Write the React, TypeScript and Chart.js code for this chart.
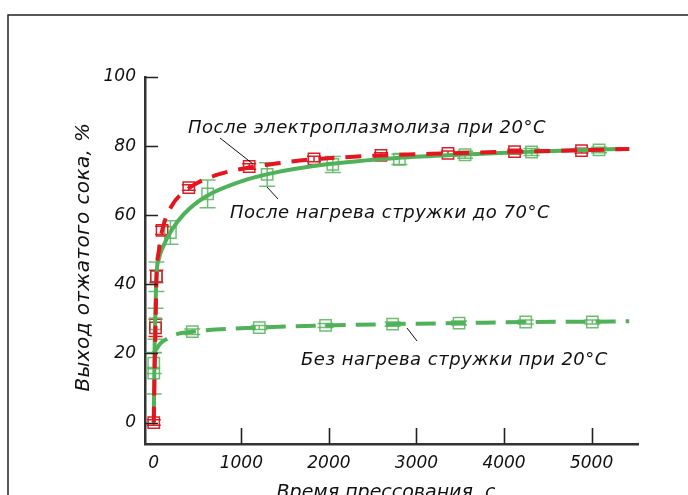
import React, { useEffect, useRef } from "react";
import { Chart, registerables } from "chart.js";

Chart.register(...registerables);

// ---------- data ----------
const xTickValues = [0, 1000, 2000, 3000, 4000, 5000];
const xInnerTicks = [1000, 2000, 3000, 4000, 5000];
const yTickValues = [0, 20, 40, 60, 80, 100];

const xTitle = "Время прессования, с";
const yTitle = "Выход отжатого сока, %";
const labelEp = "После электроплазмолиза при 20°C";
const labelHeat = "После нагрева стружки до 70°C";
const labelCold = "Без нагрева стружки при 20°C";

// After electroplasmolysis at 20°C (red)
const epTime = [0, 20, 30, 95, 400, 1090, 1830, 2595, 3360, 4120, 4885];
const epYield = [0, 27.4, 42.3, 55.6, 68.0, 74.1, 76.3, 77.3, 77.9, 78.4, 78.7];
const epErr = [0.8, 2.5, 1.8, 1.2, 0.8, 0.8, 0.8, 0.8, 0.7, 0.7, 0.7];
const epCurveTime = [0, 10, 20, 30, 60, 100, 200, 400, 700, 1090, 1500, 1830, 2595, 3360, 4120, 4885, 5430];
const epCurveYield = [0, 15, 27.5, 41, 50, 56, 62.5, 67.8, 71.5, 73.8, 75.3, 76.2, 77.3, 77.9, 78.4, 78.8, 79.2];

// After heating the chips to 70°C (green, solid)
const heatTime = [0, 20, 30, 190, 615, 1295, 2045, 2805, 3555, 4315, 5085];
const heatYield = [14.3, 28.6, 42.2, 55.0, 66.2, 71.8, 74.7, 76.2, 77.5, 78.3, 78.9];
const heatErr = [6, 4.5, 4.3, 3.4, 4.0, 3.4, 2.3, 1.5, 1.0, 1.0, 0.8];
const heatCurveTime = [0, 10, 20, 30, 60, 100, 200, 350, 600, 1000, 1300, 2000, 2800, 3550, 4300, 5085, 5430];
const heatCurveYield = [0, 22, 33, 42, 47.5, 50.5, 55.5, 60.5, 65.5, 69.8, 71.9, 74.8, 76.6, 77.6, 78.4, 79.0, 79.2];

// Without heating, chips at 20°C (green, dashed)
const coldTime = [0, 440, 1205, 1962, 2728, 3486, 4248, 5009];
const coldYield = [17.2, 26.3, 27.5, 28.1, 28.5, 28.8, 29.1, 29.1];
const coldErr = [3, 0.8, 0.6, 0.6, 0.6, 0.6, 0.6, 0.6];
const coldCurveTime = [0, 80, 164, 250, 440, 1205, 1962, 2728, 3486, 4248, 5009, 5430];
const coldCurveYield = [20.1, 23, 24.4, 25.5, 26.3, 27.5, 28.1, 28.5, 28.8, 29.1, 29.2, 29.3];

// ---------- styles ----------
const RED = "rgb(230,20,30)";
const RED_PT = "rgba(215,20,30,0.95)";
const GREEN = "rgb(80,178,88)";
const GREEN_PT = "rgba(85,180,90,0.85)";
const FONT = "'DejaVu Sans', sans-serif";

const toXY = (xs: number[], ys: number[]) => xs.map((x, i) => ({ x, y: ys[i] }));

export default function App() {
  const ref = useRef<HTMLCanvasElement | null>(null);

  useEffect(() => {
    const canvas = ref.current;
    if (!canvas) return;

    const errorSets: Record<number, { err: number[]; color: string; cap: number }> = {
      3: { err: epErr, color: RED_PT, cap: 14 },
      4: { err: heatErr, color: GREEN_PT, cap: 16 },
      5: { err: coldErr, color: GREEN_PT, cap: 16 },
    };

    const framePlugin = {
      id: "frame",
      beforeDraw(chart: any) {
        const ctx = chart.ctx;
        ctx.save();
        ctx.fillStyle = "#fff";
        ctx.fillRect(0, 0, chart.width, chart.height);
        ctx.strokeStyle = "#222";
        ctx.lineWidth = 1.5;
        ctx.beginPath();
        ctx.moveTo(8, chart.height);
        ctx.lineTo(8, 15);
        ctx.lineTo(chart.width, 15);
        ctx.stroke();
        ctx.restore();
      },
    };

    const errorPlugin = {
      id: "errorBars",
      beforeDatasetsDraw(chart: any) {
        const ctx = chart.ctx;
        const ys = chart.scales.y;
        ctx.save();
        Object.keys(errorSets).forEach((k) => {
          const idx = Number(k);
          const set = errorSets[idx];
          const meta = chart.getDatasetMeta(idx);
          const ds = chart.data.datasets[idx].data as any[];
          ctx.strokeStyle = set.color;
          ctx.lineWidth = 1.5;
          meta.data.forEach((pt: any, j: number) => {
            const v = ds[j].y;
            const e = set.err[j];
            const top = ys.getPixelForValue(v + e);
            const bot = ys.getPixelForValue(v - e);
            const h = set.cap / 2;
            ctx.beginPath();
            ctx.moveTo(pt.x, top);
            ctx.lineTo(pt.x, bot);
            ctx.moveTo(pt.x - h, top);
            ctx.lineTo(pt.x + h, top);
            ctx.moveTo(pt.x - h, bot);
            ctx.lineTo(pt.x + h, bot);
            ctx.stroke();
          });
        });
        ctx.restore();
      },
    };

    const decorPlugin = {
      id: "decor",
      afterDraw(chart: any) {
        const ctx = chart.ctx;
        const xs = chart.scales.x;
        const ys = chart.scales.y;
        const area = chart.chartArea;
        ctx.save();
        // inward ticks
        ctx.strokeStyle = "#222";
        ctx.lineWidth = 1.6;
        ctx.beginPath();
        yTickValues.forEach((v) => {
          const py = Math.round(ys.getPixelForValue(v)) + 0.5;
          ctx.moveTo(area.left, py);
          ctx.lineTo(area.left + 13, py);
        });
        xInnerTicks.forEach((v) => {
          const px = Math.round(xs.getPixelForValue(v)) + 0.5;
          ctx.moveTo(px, area.bottom);
          ctx.lineTo(px, area.bottom - 16);
        });
        ctx.stroke();

        // axis titles
        ctx.fillStyle = "#111";
        ctx.font = `italic 20px ${FONT}`;
        ctx.textAlign = "center";
        ctx.textBaseline = "middle";
        (ctx as any).letterSpacing = "0.4px";
        ctx.save();
        ctx.translate(84, 257);
        ctx.rotate(-Math.PI / 2);
        ctx.fillText(yTitle, 0, 0);
        ctx.restore();
        (ctx as any).letterSpacing = "0px";
        ctx.font = `italic 19px ${FONT}`;
        ctx.textBaseline = "alphabetic";
        ctx.fillText(xTitle, 386, 498);

        // annotations
        ctx.font = `italic 18px ${FONT}`;
        ctx.textAlign = "left";
        (ctx as any).letterSpacing = "0.5px";
        ctx.fillText(labelEp, 188, 133);
        ctx.fillText(labelHeat, 230, 218);
        ctx.fillText(labelCold, 301, 365);
        (ctx as any).letterSpacing = "0px";

        ctx.strokeStyle = "#111";
        ctx.lineWidth = 1;
        ctx.beginPath();
        ctx.moveTo(220, 138);
        ctx.lineTo(253, 164);
        ctx.moveTo(267, 187);
        ctx.lineTo(278, 199);
        ctx.moveTo(407, 328);
        ctx.lineTo(417, 341);
        ctx.stroke();
        ctx.restore();
      },
    };

    const curve = (data: any, color: string, dash: number[], width: number) => ({
      data,
      borderColor: color,
      borderWidth: width,
      borderDash: dash,
      pointRadius: 0,
      fill: false,
      cubicInterpolationMode: "monotone" as const,
      showLine: true,
    });
    const marks = (data: any, color: string) => ({
      data,
      showLine: false,
      pointStyle: "rect" as const,
      pointRadius: 8,
      pointBorderWidth: 1.5,
      pointBorderColor: color,
      pointBackgroundColor: "rgba(0,0,0,0)",
      borderColor: color,
      backgroundColor: "rgba(0,0,0,0)",
    });

    const tickFont = { family: FONT, size: 17, style: "italic" as const };

    const chart = new Chart(canvas, {
      type: "line",
      data: {
        datasets: [
          curve(toXY(epCurveTime, epCurveYield), RED, [16, 11], 4),
          curve(toXY(heatCurveTime, heatCurveYield), GREEN, [], 4),
          curve(toXY(coldCurveTime, coldCurveYield), GREEN, [20, 10], 4),
          marks(toXY(epTime, epYield), RED_PT),
          marks(toXY(heatTime, heatYield), GREEN_PT),
          marks(toXY(coldTime, coldYield), GREEN_PT),
        ],
      },
      options: {
        responsive: false,
        devicePixelRatio: 1,
        animation: false,
        events: [],
        layout: { padding: { left: 85, right: 50, top: 77, bottom: 11 } },
        plugins: { legend: { display: false }, tooltip: { enabled: false } },
        scales: {
          x: {
            type: "linear",
            min: -100,
            max: 5530,
            afterBuildTicks: (s: any) => {
              s.ticks = xTickValues.map((v) => ({ value: v }));
            },
            afterFit: (s: any) => {
              s.height = 40;
            },
            grid: { display: true, drawOnChartArea: false, drawTicks: false },
            border: { display: true, color: "#333", width: 2.5 },
            ticks: {
              font: tickFont,
              color: "#111",
              padding: 9,
              maxRotation: 0,
              autoSkip: false,
              callback: (v: any) => String(v),
            },
          },
          y: {
            type: "linear",
            min: -6.2,
            max: 100,
            afterBuildTicks: (s: any) => {
              s.ticks = yTickValues.map((v) => ({ value: v }));
            },
            afterFit: (s: any) => {
              s.width = 60;
            },
            grid: { display: true, drawOnChartArea: false, drawTicks: false },
            border: { display: true, color: "#333", width: 2.5 },
            ticks: {
              font: tickFont,
              color: "#111",
              padding: 9,
              autoSkip: false,
              callback: (v: any) => String(v),
            },
          },
        },
      },
      plugins: [framePlugin, errorPlugin, decorPlugin],
    });

    return () => chart.destroy();
  }, []);

  return (
    <div
      style={{
        position: "fixed",
        left: 0,
        top: 0,
        width: 688,
        height: 495,
        overflow: "hidden",
        background: "#fff",
      }}
    >
      <canvas ref={ref} width={688} height={495} style={{ display: "block" }} />
    </div>
  );
}
